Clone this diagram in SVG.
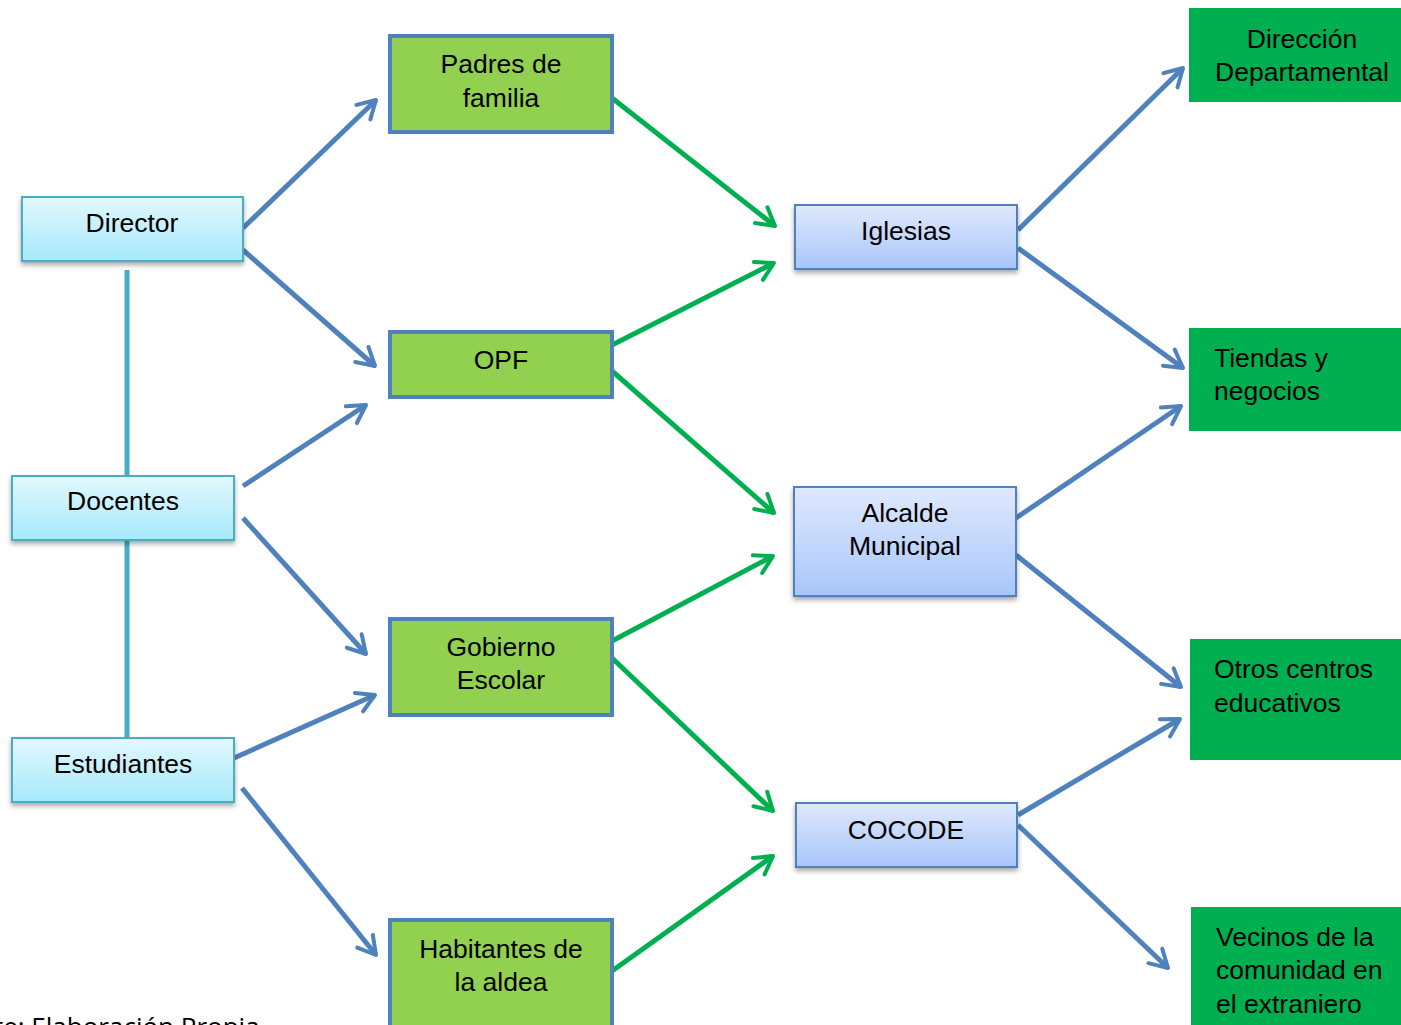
<svg xmlns="http://www.w3.org/2000/svg" width="1401" height="1025" viewBox="0 0 1401 1025">
<style>
text{font-family:"Liberation Sans",Arial,sans-serif;font-size:26.5px;fill:#000}
.c{text-anchor:middle}
.cy{fill:url(#gc);stroke:#4bacc6;stroke-width:2}
.lb{fill:url(#gb);stroke:#4f81bd;stroke-width:2}
.gr{fill:#92d050;stroke:#4f81bd;stroke-width:4}
.dg{fill:#00b050}
.ab{stroke:#4f81bd;stroke-width:5;fill:none;marker-end:url(#mb)}
.ag{stroke:#00b050;stroke-width:5;fill:none;marker-end:url(#mg)}
.vl{stroke:#4bacc6;stroke-width:5;fill:none}
</style>
<defs>
<linearGradient id="gc" x1="0" y1="0" x2="0" y2="1"><stop offset="0" stop-color="#e2f8fd"/><stop offset="1" stop-color="#a6e9fb"/></linearGradient>
<linearGradient id="gb" x1="0" y1="0" x2="0" y2="1"><stop offset="0" stop-color="#dfe9fd"/><stop offset="1" stop-color="#a8c6fa"/></linearGradient>
<filter id="sh" x="-10%" y="-10%" width="130%" height="140%"><feDropShadow dx="0" dy="3" stdDeviation="2.5" flood-color="#000" flood-opacity="0.35"/></filter>
<marker id="mb" viewBox="0 0 10 10" refX="9" refY="5" markerWidth="5" markerHeight="5" orient="auto" markerUnits="strokeWidth"><path d="M2,1 L9,5 L2,9" fill="none" stroke="#4f81bd" stroke-width="1.6" stroke-linecap="round" stroke-linejoin="round"/></marker>
<marker id="mg" viewBox="0 0 10 10" refX="9" refY="5" markerWidth="5" markerHeight="5" orient="auto" markerUnits="strokeWidth"><path d="M2,1 L9,5 L2,9" fill="none" stroke="#00b050" stroke-width="1.6" stroke-linecap="round" stroke-linejoin="round"/></marker>
<clipPath id="cv"><rect x="1191" y="907" width="210" height="106"/></clipPath>
</defs>
<rect width="1401" height="1025" fill="#fff"/>
<g id="connectors">
<path class="vl" d="M127,270 V475 M127,540 V737"/>
<path class="ab" d="M243,228 L376,100"/>
<path class="ab" d="M243,250 L375,366"/>
<path class="ab" d="M243,486 L366,405"/>
<path class="ab" d="M243,518 L366,654"/>
<path class="ab" d="M234,758 L375,695"/>
<path class="ab" d="M242,788 L376,955"/>
<path class="ag" d="M612,98 L775,226"/>
<path class="ag" d="M612,345 L774,263"/>
<path class="ag" d="M612,371 L774,513"/>
<path class="ag" d="M612,641 L773,556"/>
<path class="ag" d="M612,658 L773,811"/>
<path class="ag" d="M612,971 L773,856"/>
<path class="ab" d="M1018,230 L1183,68"/>
<path class="ab" d="M1018,248 L1183,368"/>
<path class="ab" d="M1016,518 L1181,406"/>
<path class="ab" d="M1016,555 L1181,687"/>
<path class="ab" d="M1018,815 L1180,719"/>
<path class="ab" d="M1018,825 L1168,968"/>
</g>
<g id="director"><rect class="cy" x="22" y="197" width="221" height="64" filter="url(#sh)"/><text class="c" x="132" y="232">Director</text></g>
<g id="docentes"><rect class="cy" x="12" y="476" width="222" height="64" filter="url(#sh)"/><text class="c" x="123" y="510">Docentes</text></g>
<g id="estudiantes"><rect class="cy" x="12" y="738" width="222" height="64" filter="url(#sh)"/><text class="c" x="123" y="773">Estudiantes</text></g>
<g id="padres"><rect class="gr" x="390" y="36" width="222" height="96"/><text class="c" x="501" y="73">Padres de</text><text class="c" x="501" y="107">familia</text></g>
<g id="opf"><rect class="gr" x="390" y="332" width="222" height="65"/><text class="c" x="501" y="369">OPF</text></g>
<g id="gobierno"><rect class="gr" x="390" y="619" width="222" height="96"/><text class="c" x="501" y="656">Gobierno</text><text class="c" x="501" y="689">Escolar</text></g>
<g id="habitantes"><rect class="gr" x="390" y="920" width="222" height="110"/><text class="c" x="501" y="958">Habitantes de</text><text class="c" x="501" y="991">la aldea</text></g>
<g id="iglesias"><rect class="lb" x="795" y="205" width="222" height="64" filter="url(#sh)"/><text class="c" x="906" y="240">Iglesias</text></g>
<g id="alcalde"><rect class="lb" x="794" y="487" width="222" height="109" filter="url(#sh)"/><text class="c" x="905" y="522">Alcalde</text><text class="c" x="905" y="555">Municipal</text></g>
<g id="cocode"><rect class="lb" x="796" y="803" width="221" height="64" filter="url(#sh)"/><text class="c" x="906" y="839">COCODE</text></g>
<g id="direccion"><rect class="dg" x="1189" y="8" width="212" height="94"/><text class="c" x="1302" y="48">Dirección</text><text class="c" x="1302" y="81">Departamental</text></g>
<g id="tiendas"><rect class="dg" x="1189" y="328" width="212" height="103"/><text x="1214" y="367">Tiendas y</text><text x="1214" y="400">negocios</text></g>
<g id="otros"><rect class="dg" x="1190" y="639" width="211" height="121"/><text x="1214" y="678">Otros centros</text><text x="1214" y="712">educativos</text></g>
<g id="vecinos"><rect class="dg" x="1191" y="907" width="210" height="118"/><g clip-path="url(#cv)"><text x="1216" y="946">Vecinos de la</text><text x="1216" y="979">comunidad en</text><text x="1216" y="1013">el extranjero</text></g></g>
<text x="-66" y="1036" style="font-family:'Open Sans','Noto Sans',sans-serif;font-size:26px">Fuente: Elaboración Propia</text>
</svg>
